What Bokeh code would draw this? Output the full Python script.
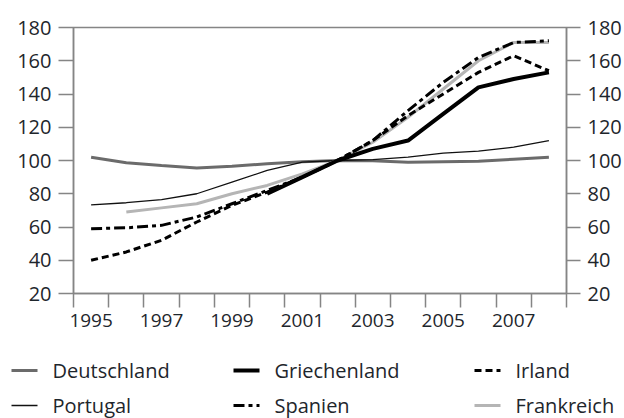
from bokeh.plotting import figure
from bokeh.layouts import column, row
from bokeh.models import Range1d, LinearAxis, FixedTicker, ColumnDataSource
from bokeh.core.properties import value
from bokeh.embed import file_html
from bokeh.resources import INLINE

nan = float("nan")

years = [1995, 1996, 1997, 1998, 1999, 2000, 2001, 2002, 2003, 2004, 2005, 2006, 2007, 2008]
label_years = [1995, 1997, 1999, 2001, 2003, 2005, 2007]
tick_labels = ["1995", "1997", "1999", "2001", "2003", "2005", "2007"]
y_ticks = [20, 40, 60, 80, 100, 120, 140, 160, 180]

deutschland = [102, 98.6, 97, 95.5, 96.5, 98, 99.2, 100, 99.8, 99, 99.3, 99.5, 100.8, 102]
griechenland = [nan, nan, nan, nan, nan, 80, 90, 100, 107, 112, 128, 144, 149, 153]
irland = [40, 45, 52, 63, 73, 81, 90, 100, 112, 127, 140, 153, 163, 154]
portugal = [73.3, 74.6, 76.5, 80, 87, 94, 99, 100, 100.5, 102, 104.4, 105.6, 108, 112]
spanien = [59, 59.5, 61, 66, 74, 82, 90, 100, 112, 130, 147, 162, 171, 172]
frankreich = [nan, 69, 71.5, 74, 80, 85, 92, 100, 111, 126, 143, 160, 171, 171]

series_names = ["Deutschland", "Griechenland", "Irland", "Portugal", "Spanien", "Frankreich"]
series_values = [deutschland, griechenland, irland, portugal, spanien, frankreich]

FONT = "Open Sans"
TXT = "#1e262c"
AX = "#858585"

styles = {
    "Deutschland": dict(line_color="#6b6b6b", line_width=3),
    "Griechenland": dict(line_color="#000000", line_width=4),
    "Irland": dict(line_color="#000000", line_width=3, line_dash="7 4"),
    "Portugal": dict(line_color="#111111", line_width=1.3),
    "Spanien": dict(line_color="#000000", line_width=3, line_dash="11 4 4 4"),
    "Frankreich": dict(line_color="#b5b5b5", line_width=3),
}
draw_order = ["Deutschland", "Portugal", "Frankreich", "Griechenland", "Irland", "Spanien"]

p = figure(width=624, height=343, output_backend="svg", toolbar_location=None,
           x_range=Range1d(years[0] - 0.5, years[-1] + 0.5), y_range=Range1d(20, 180))
p.min_border_left = 73
p.min_border_right = 58
p.min_border_top = 27
p.min_border_bottom = 50
p.xgrid.visible = False
p.ygrid.visible = False
p.outline_line_color = AX
p.outline_line_width = 1.5
p.background_fill_color = "white"
p.border_fill_color = "white"

data = dict(x=years)
for name, vals in zip(series_names, series_values):
    data[name] = vals
src = ColumnDataSource(data)

for name in draw_order:
    p.line("x", name, source=src, **styles[name])

# x axis
xa = p.xaxis[0]
xa.ticker = FixedTicker(ticks=label_years, minor_ticks=[y - 0.5 for y in years] + [years[-1] + 0.5])
xa.major_label_overrides = {y: t for y, t in zip(label_years, tick_labels)}
xa.major_tick_line_color = None
xa.major_tick_out = 14
xa.major_tick_in = 0
xa.minor_tick_out = 14
xa.minor_tick_in = 0
xa.minor_tick_line_color = AX
xa.minor_tick_line_width = 1.5
xa.axis_line_color = AX
xa.axis_line_width = 1.5
xa.major_label_standoff = 6
xa.major_label_text_font = FONT
xa.major_label_text_font_size = "19px"
xa.major_label_text_color = TXT

def style_y(ax, tick_out, standoff):
    ax.ticker = FixedTicker(ticks=y_ticks)
    ax.major_tick_out = tick_out
    ax.major_tick_in = 0
    ax.minor_tick_line_color = None
    ax.major_tick_line_color = AX
    ax.major_tick_line_width = 1.5
    ax.axis_line_color = AX
    ax.axis_line_width = 1.5
    ax.major_label_standoff = standoff
    ax.major_label_text_font = FONT
    ax.major_label_text_font_size = "20px"
    ax.major_label_text_color = TXT

style_y(p.yaxis[0], 15, 7)
ra = LinearAxis()
style_y(ra, 14, 7)
p.add_layout(ra, "right")

# legend drawn as its own small panel below the chart (3 columns x 2 rows)
LEG_W = 624
LEG_H = 75
col_x = [11, 233, 474]
row_y = [27, 62]
sample_len = 26
text_gap = 41

lg = figure(width=LEG_W, height=LEG_H, output_backend="svg", toolbar_location=None,
            x_range=Range1d(0, LEG_W), y_range=Range1d(LEG_H, 0),
            x_axis_type=None, y_axis_type=None,
            min_border_left=0, min_border_right=0, min_border_top=0, min_border_bottom=0)
lg.xgrid.visible = False
lg.ygrid.visible = False
lg.outline_line_color = None
lg.background_fill_color = "white"
lg.border_fill_color = "white"

for i, name in enumerate(series_names):
    cx = col_x[i % 3]
    cy = row_y[i // 3]
    lg.line([cx, cx + sample_len], [cy, cy], **styles[name])
    lg.text([cx + text_gap], [cy], text=[name], text_font=value(FONT), text_font_size="20px",
            text_color=TXT, text_baseline="middle", text_align="left")

layout = column(p, row(lg), spacing=0)
open("out.html", "w").write(file_html(layout, INLINE))
